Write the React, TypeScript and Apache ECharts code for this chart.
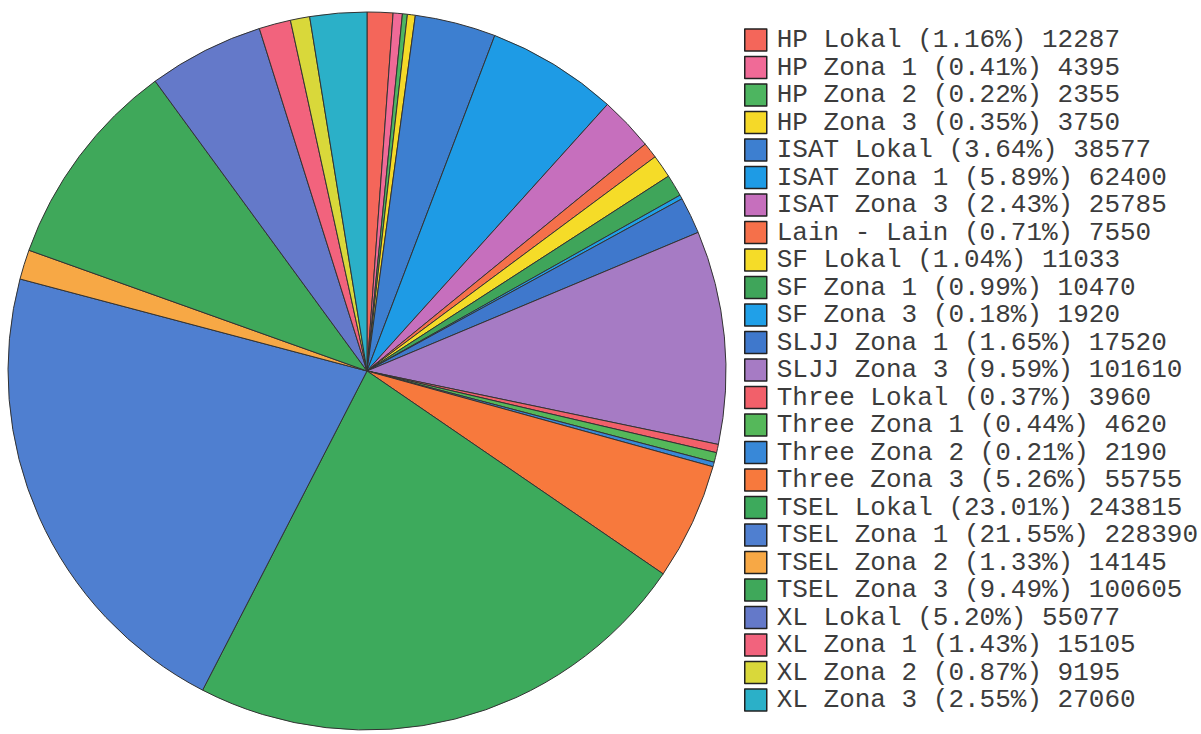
import React, { useEffect, useRef } from "react";
import * as echarts from "echarts";

const categories = [
  "HP Lokal", "HP Zona 1", "HP Zona 2", "HP Zona 3",
  "ISAT Lokal", "ISAT Zona 1", "ISAT Zona 3", "Lain - Lain",
  "SF Lokal", "SF Zona 1", "SF Zona 3", "SLJJ Zona 1", "SLJJ Zona 3",
  "Three Lokal", "Three Zona 1", "Three Zona 2", "Three Zona 3",
  "TSEL Lokal", "TSEL Zona 1", "TSEL Zona 2", "TSEL Zona 3",
  "XL Lokal", "XL Zona 1", "XL Zona 2", "XL Zona 3",
];

const values = [
  12287, 4395, 2355, 3750,
  38577, 62400, 25785, 7550,
  11033, 10470, 1920, 17520, 101610,
  3960, 4620, 2190, 55755,
  243815, 228390, 14145, 100605,
  55077, 15105, 9195, 27060,
];

const percentLabels = [
  "1.16", "0.41", "0.22", "0.35",
  "3.64", "5.89", "2.43", "0.71",
  "1.04", "0.99", "0.18", "1.65", "9.59",
  "0.37", "0.44", "0.21", "5.26",
  "23.01", "21.55", "1.33", "9.49",
  "5.20", "1.43", "0.87", "2.55",
];

const colors = [
  "#f4665a", "#f06a97", "#4db560", "#f5d928",
  "#3d7fd0", "#1e9be5", "#c66fbd", "#f5704a",
  "#f5dc28", "#3fa55a", "#20a0e8", "#3f78cc", "#a67bc4",
  "#f2606a", "#55b85a", "#3888d8", "#f7793d",
  "#3daa5c", "#4f7fd0", "#f7a845", "#3fa85a",
  "#6479c9", "#f2637d", "#d9d83a", "#2bb0c8",
];

export default function App() {
  const ref = useRef<HTMLDivElement>(null);

  useEffect(() => {
    if (!ref.current) return;
    const chart = echarts.init(ref.current, undefined, { renderer: "svg" });
    const data = categories.map((name, i) => ({
      name,
      value: values[i],
      itemStyle: { color: colors[i] },
    }));
    const labelMap: Record<string, string> = {};
    categories.forEach((c, i) => {
      labelMap[c] = `${c} (${percentLabels[i]}%) ${values[i]}`;
    });
    chart.setOption({
      animation: false,
      backgroundColor: "#ffffff",
      legend: {
        orient: "vertical",
        left: 744,
        top: 27,
        padding: 0,
        itemWidth: 22,
        itemHeight: 22,
        itemGap: 1.5,
        icon: "rect",
        selectedMode: false,
        data: categories,
        formatter: (name: string) => labelMap[name],
        itemStyle: { borderColor: "#222", borderWidth: 1.5 },
        textStyle: {
          fontFamily: "Liberation Mono",
          fontSize: 26,
          color: "#3c3c3c",
          padding: [0, 0, 0, 5],
        },
      },
      series: [
        {
          type: "pie",
          center: [367, 371],
          radius: 359,
          startAngle: 90,
          clockwise: true,
          label: { show: false },
          labelLine: { show: false },
          emphasis: { disabled: true },
          itemStyle: { borderColor: "#333", borderWidth: 1 },
          data,
        },
      ],
    });
    return () => chart.dispose();
  }, []);

  return (
    <div
      ref={ref}
      style={{ position: "absolute", left: 0, top: 0, width: 1201, height: 734 }}
    />
  );
}
